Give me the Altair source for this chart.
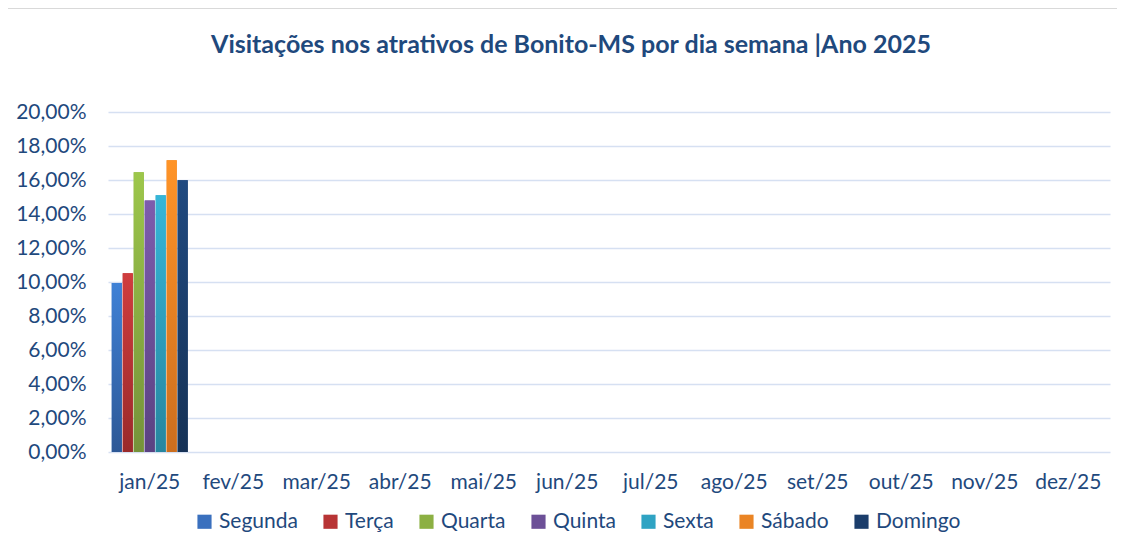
import altair as alt
import pandas as pd

months = ["jan/25", "fev/25", "mar/25", "abr/25", "mai/25", "jun/25",
          "jul/25", "ago/25", "set/25", "out/25", "nov/25", "dez/25"]
days = ["Segunda", "Terça", "Quarta", "Quinta", "Sexta", "Sábado", "Domingo"]
jan_values = [0.0994, 0.1051, 0.1645, 0.1480, 0.1510, 0.1716, 0.1598]
colors = ["#3A70BE", "#B83435", "#8CB043", "#6C5097", "#2FA3C3", "#EA8424", "#1B3D6B"]
tops = ["#3F81D6", "#D03D3E", "#9DC74B", "#7D5CAD", "#36B6D8", "#FF9428", "#204A80"]
bottoms = ["#2D5896", "#9A2A2B", "#75923A", "#5A4282", "#27869F", "#CC6E1E", "#163256"]
title_text = "Visitações nos atrativos de Bonito-MS por dia semana |Ano 2025"

df = pd.DataFrame({"mes": ["jan/25"] * 7, "dia": days, "valor": jan_values})

TXT = "#1F497D"
FONT = "Lato"

x = alt.X("mes:N", scale=alt.Scale(domain=months, paddingInner=0.09, paddingOuter=0.045),
          axis=alt.Axis(title=None, labelAngle=0, labelFontSize=21, labelColor=TXT,
                        labelFont=FONT, labelPadding=19, ticks=False, domain=False, grid=False))
xo = alt.XOffset("dia:N", scale=alt.Scale(domain=days, paddingInner=0.08))
y = alt.Y("valor:Q", scale=alt.Scale(domain=[0, 0.2]),
          axis=alt.Axis(title=None, values=[i / 100 for i in range(0, 21, 2)],
                        labelExpr="replace(format(datum.value, '.2%'), '.', ',')",
                        labelFontSize=21, labelColor=TXT, labelFont=FONT, labelPadding=22,
                        ticks=False, domain=False, grid=True, gridColor="#D6E0F2",
                        gridWidth=1.5))

base = alt.Chart(df).mark_bar().encode(
    x=x, xOffset=xo, y=y,
    color=alt.Color("dia:N", scale=alt.Scale(domain=days, range=colors),
                    legend=alt.Legend(title=None, orient="none", direction="horizontal",
                                      legendX=86, legendY=399, symbolType="square",
                                      symbolSize=200, symbolStrokeWidth=0,
                                      labelFontSize=21, labelColor=TXT, labelFont=FONT,
                                      labelOffset=4, columnPadding=22)),
)

layers = [base]
for d, t, b in zip(days, tops, bottoms):
    layers.append(
        alt.Chart(df).transform_filter(alt.datum.dia == d).mark_bar(
            color=alt.Gradient(gradient="linear", x1=0, y1=0, x2=0, y2=1,
                               stops=[alt.GradientStop(offset=0, color=t),
                                      alt.GradientStop(offset=1, color=b)])
        ).encode(x=x, xOffset=xo, y=y)
    )

border = alt.Chart(df).mark_rect(fill=None, stroke="#D9D9D9", strokeWidth=2).encode(
    x=alt.value(-101), x2=alt.value(1030), y=alt.value(-104), y2=alt.value(460)
)

title = alt.Chart(df).transform_filter(alt.datum.dia == "Segunda").mark_text(
    text=title_text, fontSize=25, font=FONT, fontWeight="bold", color="#1F497D",
    align="center", baseline="middle"
).encode(x=alt.value(463), y=alt.value(-67))

chart = alt.layer(border, title, *layers).properties(
    width=1002, height=340,
    autosize=alt.AutoSizeParams(type="none"),
    padding={"left": 100, "top": 104, "right": 7, "bottom": 94},
).configure_view(stroke=None)

chart.save("out.html", embed_options={"renderer": "svg", "actions": False})
